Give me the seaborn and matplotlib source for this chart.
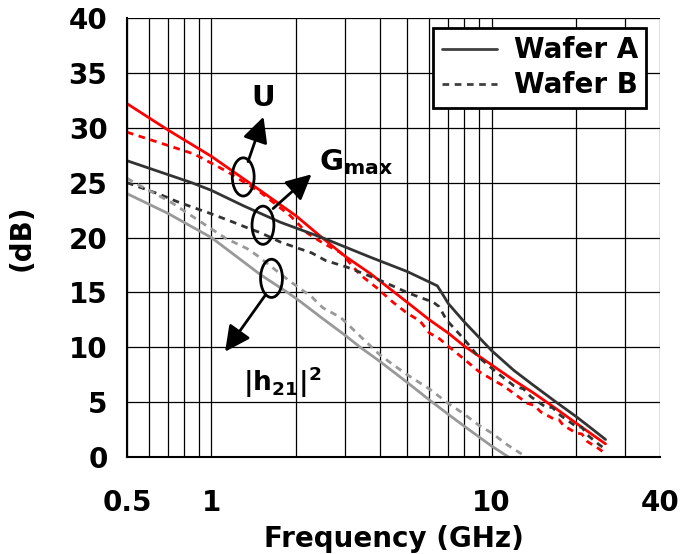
import numpy as np
import pandas as pd
import matplotlib
matplotlib.use("Agg")
import matplotlib.pyplot as plt
from matplotlib.lines import Line2D
from matplotlib.patches import Ellipse
from matplotlib.ticker import FixedLocator, NullFormatter
import seaborn as sns

# U, wafer A (red solid)
u_a_f = [0.5, 0.7, 1.0, 1.4, 2.0, 2.48, 3.0, 3.7, 5.0, 6.0, 7.0, 8.0, 10.0, 12.0, 14.0, 17.0, 20.0, 23.0, 25.5]
u_a_db = [32.2, 29.8, 27.4, 24.8, 22.0, 20.0, 18.3, 16.7, 14.1, 12.5, 11.3, 10.1, 8.4, 7.0, 5.9, 4.4, 3.1, 2.0, 1.2]

# U, wafer B (red dashed)
u_b_f = [0.5, 0.66, 0.87, 1.14, 1.5, 1.91, 2.2, 2.5, 2.9, 3.4, 3.9, 4.45, 5.0, 5.55, 6.0, 6.5, 7.0, 8.0, 9.0,
         10.0, 11.0, 12.0, 13.4, 14.2, 15.0, 16.6, 17.4, 18.0, 20.0, 21.0, 22.0, 24.0, 25.5]
u_b_db = [29.6, 28.6, 27.6, 26.0, 24.1, 22.0, 20.4, 19.5, 18.6, 16.6, 15.4, 14.1, 13.1, 12.4, 11.3, 10.8, 10.1, 8.9, 7.8,
          7.1, 6.5, 5.8, 4.9, 4.7, 4.1, 3.5, 3.4, 2.9, 2.2, 2.1, 1.4, 0.8, 0.3]

# Gmax, wafer A (dark solid)
g_a_f = [0.5, 0.85, 1.0, 1.3, 1.76, 2.48, 3.7, 5.0, 6.4, 6.7, 7.0, 8.0, 10.0, 12.0, 14.0, 17.0, 20.0, 23.0, 25.5]
g_a_db = [27.0, 25.0, 24.3, 22.9, 21.4, 20.0, 18.2, 16.9, 15.6, 14.8, 14.0, 12.3, 9.7, 7.9, 6.6, 5.0, 3.7, 2.5, 1.6]

# Gmax, wafer B (dark dashed)
g_b_f = [0.5, 0.66, 0.75, 0.87, 0.99, 1.17, 1.34, 1.51, 1.76, 2.0, 2.28, 2.56, 3.05, 3.5, 4.0, 5.1, 6.2, 6.5,
         6.9, 8.0, 9.0, 10.0, 10.8, 12.0, 13.0, 13.8, 15.5, 16.5, 17.6, 20.0, 21.0, 22.0, 24.0, 25.5]
g_b_db = [25.0, 23.9, 23.3, 22.7, 22.2, 21.5, 20.9, 20.4, 19.6, 19.1, 18.6, 17.9, 17.3, 16.7, 16.1, 14.9, 14.1, 13.7,
          12.5, 10.7, 9.1, 8.1, 7.4, 6.5, 6.2, 5.5, 4.6, 4.5, 3.8, 2.8, 2.7, 2.0, 1.2, 0.7]

# |h21|^2, wafer A (light gray solid)
h_a_f = [0.5, 0.7, 0.85, 1.0, 1.27, 1.5, 1.87, 2.07, 2.5, 3.0, 3.4, 4.0, 5.0, 6.0, 7.0, 8.0, 10.0, 11.5]
h_a_db = [24.0, 22.2, 21.0, 20.0, 18.0, 16.6, 15.0, 14.2, 12.6, 11.1, 10.0, 8.7, 6.8, 5.2, 3.9, 2.8, 1.0, 0.0]

# |h21|^2, wafer B (light gray dashed)
h_b_f = [0.5, 0.55, 0.72, 0.92, 1.13, 1.34, 1.45, 1.91, 2.28, 2.5, 2.9, 3.4, 4.0, 4.46, 5.0, 6.0, 7.0, 8.0, 9.0,
         10.0, 11.4, 13.3]
h_b_db = [25.4, 24.8, 23.2, 21.4, 19.9, 19.0, 18.4, 16.0, 14.6, 13.6, 12.7, 11.0, 9.3, 8.4, 7.5, 6.2, 4.9, 3.9, 2.9,
          2.2, 1.1, 0.0]

x_ticks = [0.5, 1, 10, 40]
x_tick_labels = ["0.5", "1", "10", "40"]
x_minor = [0.6, 0.7, 0.8, 0.9, 2, 3, 4, 5, 6, 7, 8, 9, 20, 30]
y_ticks = [0, 5, 10, 15, 20, 25, 30, 35, 40]

frames = []
for name, wafer, f, db in [("U", "A", u_a_f, u_a_db), ("U", "B", u_b_f, u_b_db),
                           ("Gmax", "A", g_a_f, g_a_db), ("Gmax", "B", g_b_f, g_b_db),
                           ("h21", "A", h_a_f, h_a_db), ("h21", "B", h_b_f, h_b_db)]:
    frames.append(pd.DataFrame({"Frequency": f, "dB": db, "Metric": name, "Wafer": wafer}))
df = pd.concat(frames, ignore_index=True)

sns.set_style("white")
plt.rcParams["font.family"] = ["DejaVu Sans"]
plt.rcParams["font.weight"] = "bold"
plt.rcParams["mathtext.fontset"] = "dejavusans"
plt.rcParams["text.color"] = "black"
plt.rcParams["axes.labelcolor"] = "black"
plt.rcParams["xtick.color"] = "black"
plt.rcParams["ytick.color"] = "black"

fig = plt.figure(figsize=(6.9, 5.54), dpi=100)
ax = fig.add_axes([0.184, 0.175, 0.773, 0.7925])

palette = {"U": "#ff0000", "Gmax": "#333333", "h21": "#999999"}
dashes = {"A": "", "B": (2.4, 2.0)}
sns.lineplot(data=df, x="Frequency", y="dB", hue="Metric", style="Wafer",
             palette=palette, dashes=dashes, estimator=None, sort=True, lw=2, legend=False, ax=ax)

ax.set_xscale("log")
ax.set_xlim(0.5, 40)
ax.set_ylim(0, 40)
ax.xaxis.set_major_locator(FixedLocator(x_ticks))
ax.set_xticklabels(x_tick_labels)
ax.xaxis.set_minor_locator(FixedLocator(x_minor))
ax.xaxis.set_minor_formatter(NullFormatter())
ax.set_yticks(y_ticks)
ax.grid(True, which="both", color="black", lw=0.9)
ax.set_axisbelow(True)

for s in ["top", "right"]:
    ax.spines[s].set_visible(False)
for s in ["left", "bottom"]:
    ax.spines[s].set_color("black")
    ax.spines[s].set_linewidth(1.5)

ax.tick_params(axis="x", which="major", direction="out", length=8, width=1.2, colors="black", pad=15, labelsize=20)
ax.tick_params(axis="x", which="minor", length=0)
ax.tick_params(axis="y", direction="out", length=5, width=1.2, colors="black", pad=9, labelsize=20)

ax.set_xlabel("Frequency (GHz)", fontsize=20, fontweight="bold", color="black")
ax.set_ylabel("(dB)", fontsize=20, fontweight="bold", color="black")
ax.xaxis.set_label_coords(0.5, -0.155)
ax.yaxis.set_label_coords(-0.172, 0.5)

handles = [Line2D([], [], color="#404040", lw=2),
           Line2D([], [], color="#404040", lw=2, dashes=(2.4, 2.0))]
leg = ax.legend(handles, ["Wafer A", "Wafer B"], loc="upper right", bbox_to_anchor=(0.974, 0.977),
                borderaxespad=0, fancybox=False, framealpha=1, edgecolor="black",
                prop={"size": 20, "weight": "bold"}, handlelength=2.0, handletextpad=0.6,
                labelspacing=0.25, borderpad=0.3)
leg.get_frame().set_linewidth(2)
for t in leg.get_texts():
    t.set_color("black")

# ellipses and arrows (axes fraction)
for xc, yc in [(0.218, 0.638), (0.255, 0.528), (0.271, 0.407)]:
    ax.add_patch(Ellipse((xc, yc), 0.041, 0.087, transform=ax.transAxes, fill=False, lw=2, ec="black", zorder=5))

arrow = dict(arrowstyle="-|>,head_length=0.7,head_width=0.35", lw=2, color="black", mutation_scale=22,
             shrinkA=0, shrinkB=0)
ax.annotate("", xy=(0.256, 0.775), xytext=(0.227, 0.673), xycoords="axes fraction", arrowprops=arrow, zorder=6)
ax.annotate("", xy=(0.346, 0.644), xytext=(0.274, 0.566), xycoords="axes fraction", arrowprops=arrow, zorder=6)
ax.annotate("", xy=(0.184, 0.240), xytext=(0.259, 0.368), xycoords="axes fraction", arrowprops=arrow, zorder=6)

ax.text(0.255, 0.818, "U", transform=ax.transAxes, fontsize=21, fontweight="bold", ha="center", va="center")
ax.text(0.360, 0.672, r"$\mathbf{G_{max}}$", transform=ax.transAxes, fontsize=21, ha="left", va="center")
ax.text(0.218, 0.170, r"$\mathbf{|h_{21}|^2}$", transform=ax.transAxes, fontsize=19, ha="left", va="center")

fig.savefig("out.png", dpi=100)
